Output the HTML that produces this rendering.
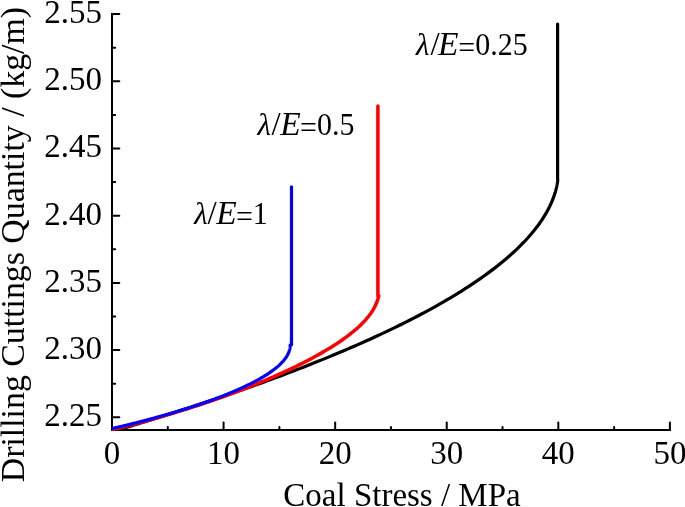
<!DOCTYPE html>
<html><head><meta charset="utf-8"><style>
html,body{margin:0;padding:0;background:#fff;}
body{width:685px;height:507px;overflow:hidden;}
svg{display:block;will-change:transform;}
svg text{font-family:"Liberation Serif",serif;font-size:33px;fill:#000;}
</style></head><body>
<svg width="685" height="507" viewBox="0 0 685 507">
<rect width="685" height="507" fill="#fff"/>
<g stroke="#000" stroke-width="2" fill="none" stroke-linecap="butt">
<path d="M112,13 L112,431 M111,430 L671,430"/>
</g>
<g stroke="#000" stroke-width="2" fill="none" stroke-linecap="round">
<line x1="112" y1="417.30" x2="119.30" y2="417.30"/><line x1="112" y1="383.70" x2="115.20" y2="383.70"/><line x1="112" y1="350.10" x2="119.30" y2="350.10"/><line x1="112" y1="316.50" x2="115.20" y2="316.50"/><line x1="112" y1="282.90" x2="119.30" y2="282.90"/><line x1="112" y1="249.30" x2="115.20" y2="249.30"/><line x1="112" y1="215.70" x2="119.30" y2="215.70"/><line x1="112" y1="182.10" x2="115.20" y2="182.10"/><line x1="112" y1="148.50" x2="119.30" y2="148.50"/><line x1="112" y1="114.90" x2="115.20" y2="114.90"/><line x1="112" y1="81.30" x2="119.30" y2="81.30"/><line x1="112" y1="47.70" x2="115.20" y2="47.70"/><line x1="112" y1="14.10" x2="119.30" y2="14.10"/><line x1="112.00" y1="430" x2="112.00" y2="422.50"/><line x1="167.79" y1="430" x2="167.79" y2="426.90"/><line x1="223.58" y1="430" x2="223.58" y2="422.50"/><line x1="279.37" y1="430" x2="279.37" y2="426.90"/><line x1="335.16" y1="430" x2="335.16" y2="422.50"/><line x1="390.95" y1="430" x2="390.95" y2="426.90"/><line x1="446.74" y1="430" x2="446.74" y2="422.50"/><line x1="502.53" y1="430" x2="502.53" y2="426.90"/><line x1="558.32" y1="430" x2="558.32" y2="422.50"/><line x1="614.11" y1="430" x2="614.11" y2="426.90"/><line x1="669.90" y1="430" x2="669.90" y2="422.50"/>
</g>
<defs><clipPath id="pc"><rect x="112" y="0" width="573" height="431"/></clipPath></defs>
<g fill="none" stroke-linejoin="round" stroke-linecap="round" clip-path="url(#pc)">
<polyline points="112.00,431.67 115.68,430.58 119.36,429.48 123.04,428.38 126.72,427.27 130.39,426.16 134.07,425.04 137.75,423.92 141.43,422.80 145.11,421.67 148.79,420.53 152.47,419.39 156.15,418.24 159.83,417.09 163.51,415.94 167.18,414.77 170.86,413.61 174.54,412.43 178.22,411.26 181.90,410.07 185.58,408.88 189.26,407.69 192.94,406.49 196.62,405.28 200.30,404.07 203.97,402.85 207.65,401.62 211.33,400.39 215.01,399.15 218.69,397.91 222.37,396.66 226.05,395.40 229.73,394.13 233.41,392.86 237.09,391.58 240.76,390.30 244.44,389.00 248.12,387.70 251.80,386.39 255.48,385.08 259.16,383.75 262.84,382.42 266.52,381.08 270.20,379.73 273.88,378.37 277.55,377.01 281.23,375.63 284.91,374.25 288.59,372.86 292.27,371.45 295.95,370.04 299.63,368.62 303.31,367.19 306.99,365.75 310.67,364.29 314.34,362.83 318.02,361.36 321.70,359.87 325.38,358.38 329.06,356.87 332.74,355.35 336.42,353.82 340.10,352.27 343.78,350.72 347.46,349.15 351.13,347.56 354.81,345.96 358.49,344.35 362.17,342.72 365.85,341.08 369.53,339.43 373.21,337.75 376.89,336.06 380.57,334.36 384.25,332.63 387.92,330.89 391.60,329.13 395.28,327.35 398.96,325.55 402.64,323.73 406.32,321.89 410.00,320.02 413.68,318.14 417.36,316.23 421.04,314.29 424.71,312.33 428.39,310.35 432.07,308.33 435.75,306.29 439.43,304.21 443.11,302.11 446.79,299.97 450.47,297.79 454.15,295.58 457.83,293.33 461.50,291.04 465.18,288.71 468.86,286.33 472.54,283.90 476.22,281.42 479.90,278.89 483.58,276.29 487.26,273.63 490.94,270.91 494.62,268.11 498.29,265.23 501.97,262.26 505.65,259.19 509.33,256.02 513.01,252.73 516.69,249.30 520.37,245.72 524.05,241.97 527.73,238.01 531.41,233.81 535.08,229.32 538.76,224.47 542.44,219.13 546.12,213.15 549.80,206.20 549.87,206.06 549.93,205.92 550.00,205.78 550.07,205.64 550.14,205.50 550.20,205.35 550.27,205.21 550.34,205.07 550.41,204.92 550.47,204.78 550.54,204.63 550.61,204.49 550.67,204.34 550.74,204.19 550.81,204.04 550.88,203.90 550.94,203.75 551.01,203.60 551.08,203.45 551.14,203.30 551.21,203.14 551.28,202.99 551.35,202.84 551.41,202.68 551.48,202.53 551.55,202.37 551.62,202.22 551.68,202.06 551.75,201.90 551.82,201.74 551.88,201.58 551.95,201.42 552.02,201.26 552.09,201.10 552.15,200.94 552.22,200.77 552.29,200.61 552.35,200.44 552.42,200.28 552.49,200.11 552.56,199.94 552.62,199.77 552.69,199.60 552.76,199.43 552.83,199.26 552.89,199.08 552.96,198.91 553.03,198.73 553.09,198.56 553.16,198.38 553.23,198.20 553.30,198.02 553.36,197.84 553.43,197.66 553.50,197.47 553.56,197.29 553.63,197.10 553.70,196.92 553.77,196.73 553.83,196.54 553.90,196.34 553.97,196.15 554.04,195.96 554.10,195.76 554.17,195.56 554.24,195.36 554.30,195.16 554.37,194.96 554.44,194.76 554.51,194.55 554.57,194.34 554.64,194.13 554.71,193.92 554.77,193.71 554.84,193.49 554.91,193.28 554.98,193.06 555.04,192.84 555.11,192.61 555.18,192.39 555.25,192.16 555.31,191.93 555.38,191.69 555.45,191.46 555.51,191.22 555.58,190.98 555.65,190.73 555.72,190.48 555.78,190.23 555.85,189.98 555.92,189.72 555.98,189.46 556.05,189.19 556.12,188.93 556.19,188.65 556.25,188.38 556.32,188.09 556.39,187.81 556.46,187.52 556.52,187.22 556.59,186.92 556.66,186.61 556.72,186.30 556.79,185.98 556.86,185.65 556.93,185.32 556.99,184.97 557.06,184.62 557.13,184.26 557.19,183.89 557.26,183.51 557.33,183.12 557.40,182.71 557.46,182.29 557.53,181.85 557.60,181.39 557.67,180.91 557.73,180.41 557.80,179.88 557.60,179.80 557.60,24.00" stroke="#000" stroke-width="3.2"/>
<polyline points="112.00,429.80 114.17,429.27 116.35,428.73 118.52,428.19 120.70,427.64 122.87,427.09 125.05,426.54 127.22,425.98 129.40,425.42 131.57,424.85 133.75,424.28 135.92,423.71 138.10,423.13 140.27,422.54 142.45,421.95 144.62,421.36 146.80,420.76 148.97,420.16 151.15,419.55 153.32,418.94 155.50,418.33 157.67,417.71 159.85,417.08 162.02,416.45 164.19,415.82 166.37,415.18 168.54,414.54 170.72,413.89 172.89,413.24 175.07,412.58 177.24,411.92 179.42,411.25 181.59,410.57 183.77,409.90 185.94,409.21 188.12,408.53 190.29,407.83 192.47,407.13 194.64,406.43 196.82,405.72 198.99,405.01 201.17,404.29 203.34,403.56 205.52,402.83 207.69,402.10 209.87,401.35 212.04,400.61 214.22,399.85 216.39,399.09 218.56,398.33 220.74,397.56 222.91,396.78 225.09,396.00 227.26,395.21 229.44,394.41 231.61,393.61 233.79,392.81 235.96,391.99 238.14,391.17 240.31,390.34 242.49,389.51 244.66,388.67 246.84,387.82 249.01,386.96 251.19,386.10 253.36,385.23 255.54,384.35 257.71,383.46 259.89,382.57 262.06,381.67 264.24,380.76 266.41,379.84 268.58,378.91 270.76,377.98 272.93,377.03 275.11,376.08 277.28,375.12 279.46,374.15 281.63,373.16 283.81,372.17 285.98,371.17 288.16,370.16 290.33,369.13 292.51,368.10 294.68,367.05 296.86,365.99 299.03,364.92 301.21,363.83 303.38,362.73 305.56,361.62 307.73,360.49 309.91,359.35 312.08,358.19 314.26,357.02 316.43,355.82 318.61,354.61 320.78,353.38 322.95,352.13 325.13,350.86 327.30,349.56 329.48,348.25 331.65,346.90 333.83,345.53 336.00,344.13 338.18,342.69 340.35,341.23 342.53,339.72 344.70,338.17 346.88,336.58 349.05,334.94 351.23,333.24 353.40,331.48 355.58,329.65 357.75,327.73 359.93,325.72 362.10,323.59 364.28,321.33 366.45,318.90 368.63,316.25 370.80,313.31 370.87,313.22 370.93,313.12 371.00,313.02 371.07,312.92 371.14,312.83 371.20,312.73 371.27,312.63 371.34,312.53 371.41,312.43 371.47,312.33 371.54,312.23 371.61,312.13 371.67,312.02 371.74,311.92 371.81,311.82 371.88,311.72 371.94,311.61 372.01,311.51 372.08,311.41 372.14,311.30 372.21,311.20 372.28,311.09 372.35,310.98 372.41,310.88 372.48,310.77 372.55,310.66 372.62,310.55 372.68,310.44 372.75,310.33 372.82,310.22 372.88,310.11 372.95,310.00 373.02,309.89 373.09,309.78 373.15,309.66 373.22,309.55 373.29,309.44 373.35,309.32 373.42,309.21 373.49,309.09 373.56,308.97 373.62,308.86 373.69,308.74 373.76,308.62 373.83,308.50 373.89,308.38 373.96,308.26 374.03,308.14 374.09,308.01 374.16,307.89 374.23,307.76 374.30,307.64 374.36,307.51 374.43,307.39 374.50,307.26 374.56,307.13 374.63,307.00 374.70,306.87 374.77,306.74 374.83,306.61 374.90,306.48 374.97,306.34 375.04,306.21 375.10,306.07 375.17,305.94 375.24,305.80 375.30,305.66 375.37,305.52 375.44,305.38 375.51,305.24 375.57,305.09 375.64,304.95 375.71,304.80 375.77,304.65 375.84,304.51 375.91,304.36 375.98,304.21 376.04,304.05 376.11,303.90 376.18,303.74 376.25,303.59 376.31,303.43 376.38,303.27 376.45,303.11 376.51,302.94 376.58,302.78 376.65,302.61 376.72,302.44 376.78,302.27 376.85,302.10 376.92,301.93 376.98,301.75 377.05,301.57 377.12,301.39 377.19,301.21 377.25,301.03 377.32,300.84 377.39,300.65 377.46,300.46 377.52,300.26 377.59,300.07 377.66,299.87 377.72,299.66 377.79,299.46 377.86,299.25 377.93,299.04 377.99,298.82 378.06,298.60 378.13,298.38 378.19,298.15 378.26,297.92 378.33,297.69 378.40,297.45 378.46,297.20 378.53,296.95 378.60,296.70 378.67,296.44 378.73,296.17 378.80,295.90 377.90,296.00 377.90,106.00" stroke="#ff0000" stroke-width="3.5"/>
<polyline points="112.00,428.58 113.43,428.25 114.86,427.91 116.29,427.58 117.72,427.24 119.15,426.90 120.58,426.56 122.01,426.22 123.44,425.87 124.87,425.53 126.30,425.18 127.73,424.83 129.16,424.48 130.59,424.12 132.02,423.77 133.45,423.41 134.88,423.05 136.31,422.69 137.74,422.33 139.17,421.96 140.61,421.59 142.04,421.22 143.47,420.85 144.90,420.48 146.33,420.10 147.76,419.73 149.19,419.35 150.62,418.96 152.05,418.58 153.48,418.19 154.91,417.81 156.34,417.41 157.77,417.02 159.20,416.62 160.63,416.23 162.06,415.83 163.49,415.42 164.92,415.02 166.35,414.61 167.78,414.20 169.21,413.78 170.64,413.37 172.07,412.95 173.50,412.53 174.93,412.10 176.36,411.68 177.79,411.25 179.22,410.82 180.65,410.38 182.08,409.94 183.51,409.50 184.94,409.05 186.37,408.61 187.80,408.16 189.23,407.70 190.66,407.24 192.09,406.78 193.52,406.32 194.95,405.85 196.38,405.38 197.82,404.90 199.25,404.42 200.68,403.94 202.11,403.45 203.54,402.96 204.97,402.47 206.40,401.97 207.83,401.47 209.26,400.96 210.69,400.45 212.12,399.93 213.55,399.41 214.98,398.88 216.41,398.35 217.84,397.82 219.27,397.27 220.70,396.73 222.13,396.18 223.56,395.62 224.99,395.05 226.42,394.48 227.85,393.91 229.28,393.33 230.71,392.74 232.14,392.14 233.57,391.54 235.00,390.93 236.43,390.31 237.86,389.69 239.29,389.05 240.72,388.41 242.15,387.76 243.58,387.10 245.01,386.43 246.44,385.75 247.87,385.06 249.30,384.36 250.73,383.64 252.16,382.92 253.59,382.18 255.03,381.43 256.46,380.66 257.89,379.88 259.32,379.08 260.75,378.26 262.18,377.42 263.61,376.57 265.04,375.69 266.47,374.79 267.90,373.86 269.33,372.91 270.76,371.92 272.19,370.90 273.62,369.83 275.05,368.73 276.48,367.57 277.91,366.35 279.34,365.07 280.77,363.70 282.20,362.22 282.27,362.15 282.33,362.08 282.40,362.00 282.47,361.93 282.54,361.86 282.60,361.78 282.67,361.71 282.74,361.63 282.81,361.56 282.87,361.49 282.94,361.41 283.01,361.33 283.07,361.26 283.14,361.18 283.21,361.10 283.28,361.03 283.34,360.95 283.41,360.87 283.48,360.79 283.54,360.71 283.61,360.64 283.68,360.56 283.75,360.48 283.81,360.40 283.88,360.32 283.95,360.23 284.02,360.15 284.08,360.07 284.15,359.99 284.22,359.91 284.28,359.82 284.35,359.74 284.42,359.65 284.49,359.57 284.55,359.48 284.62,359.40 284.69,359.31 284.75,359.23 284.82,359.14 284.89,359.05 284.96,358.96 285.02,358.87 285.09,358.78 285.16,358.69 285.23,358.60 285.29,358.51 285.36,358.42 285.43,358.33 285.49,358.23 285.56,358.14 285.63,358.05 285.70,357.95 285.76,357.86 285.83,357.76 285.90,357.66 285.96,357.56 286.03,357.47 286.10,357.37 286.17,357.27 286.23,357.16 286.30,357.06 286.37,356.96 286.44,356.86 286.50,356.75 286.57,356.65 286.64,356.54 286.70,356.43 286.77,356.32 286.84,356.21 286.91,356.10 286.97,355.99 287.04,355.88 287.11,355.76 287.17,355.65 287.24,355.53 287.31,355.41 287.38,355.29 287.44,355.17 287.51,355.05 287.58,354.93 287.65,354.80 287.71,354.68 287.78,354.55 287.85,354.42 287.91,354.28 287.98,354.15 288.05,354.01 288.12,353.88 288.18,353.73 288.25,353.59 288.32,353.45 288.38,353.30 288.45,353.15 288.52,352.99 288.59,352.84 288.65,352.68 288.72,352.51 288.79,352.35 288.86,352.17 288.92,352.00 288.99,351.82 289.06,351.63 289.12,351.44 289.19,351.24 289.26,351.04 289.33,350.83 289.39,350.61 289.46,350.38 289.53,350.14 289.59,349.89 289.66,349.62 289.73,349.34 289.80,349.03 289.86,348.70 289.93,348.33 290.00,347.92 290.07,347.42 290.13,346.77 290.20,345.16 291.50,344.90 291.50,186.80" stroke="#0000ff" stroke-width="3.2"/>
</g>
<text transform="translate(102.00,426.10) scale(1,1.025)" text-anchor="end">2.25</text><text transform="translate(102.00,358.90) scale(1,1.025)" text-anchor="end">2.30</text><text transform="translate(102.00,291.70) scale(1,1.025)" text-anchor="end">2.35</text><text transform="translate(102.00,224.50) scale(1,1.025)" text-anchor="end">2.40</text><text transform="translate(102.00,157.30) scale(1,1.025)" text-anchor="end">2.45</text><text transform="translate(102.00,90.10) scale(1,1.025)" text-anchor="end">2.50</text><text transform="translate(102.00,22.90) scale(1,1.025)" text-anchor="end">2.55</text>
<text transform="translate(112.00,464.20) scale(1,1.025)" text-anchor="middle">0</text><text transform="translate(223.58,464.20) scale(1,1.025)" text-anchor="middle">10</text><text transform="translate(335.16,464.20) scale(1,1.025)" text-anchor="middle">20</text><text transform="translate(446.74,464.20) scale(1,1.025)" text-anchor="middle">30</text><text transform="translate(558.32,464.20) scale(1,1.025)" text-anchor="middle">40</text><text transform="translate(669.90,464.20) scale(1,1.025)" text-anchor="middle">50</text>
<text transform="translate(402.00,506.30) scale(1,1.025)" text-anchor="middle">Coal Stress / MPa</text>
<text transform="translate(24.2,244.6) scale(1,1.025) rotate(-90)" text-anchor="middle">Drilling Cuttings Quantity / (kg/m)</text>
<text transform="translate(0,54.70) scale(1,1.025)"><tspan x="415.90" y="0" font-style="italic" font-size="31px">λ</tspan><tspan x="430.40" y="0">/</tspan><tspan x="438.10" y="0" font-style="italic" font-size="33.5px">E</tspan></text><text transform="translate(0,54.70) scale(1,1.08)" style="font-size:30px"><tspan x="458.30" y="2.8">=</tspan><tspan y="0">0.25</tspan></text>
<text transform="translate(0,134.90) scale(1,1.025)"><tspan x="257.60" y="0" font-style="italic" font-size="31px">λ</tspan><tspan x="271.50" y="0">/</tspan><tspan x="280.20" y="0" font-style="italic" font-size="33.5px">E</tspan></text><text transform="translate(0,134.90) scale(1,1.08)" style="font-size:30px"><tspan x="300.00" y="2.8">=</tspan><tspan y="0">0.5</tspan></text>
<text transform="translate(0,223.60) scale(1,1.025)"><tspan x="194.30" y="0" font-style="italic" font-size="31px">λ</tspan><tspan x="207.50" y="0">/</tspan><tspan x="216.30" y="0" font-style="italic" font-size="33.5px">E</tspan></text><text transform="translate(0,223.60) scale(1,1.08)" style="font-size:30px"><tspan x="235.90" y="2.8">=</tspan><tspan y="0">1</tspan></text>
</svg>
</body></html>
